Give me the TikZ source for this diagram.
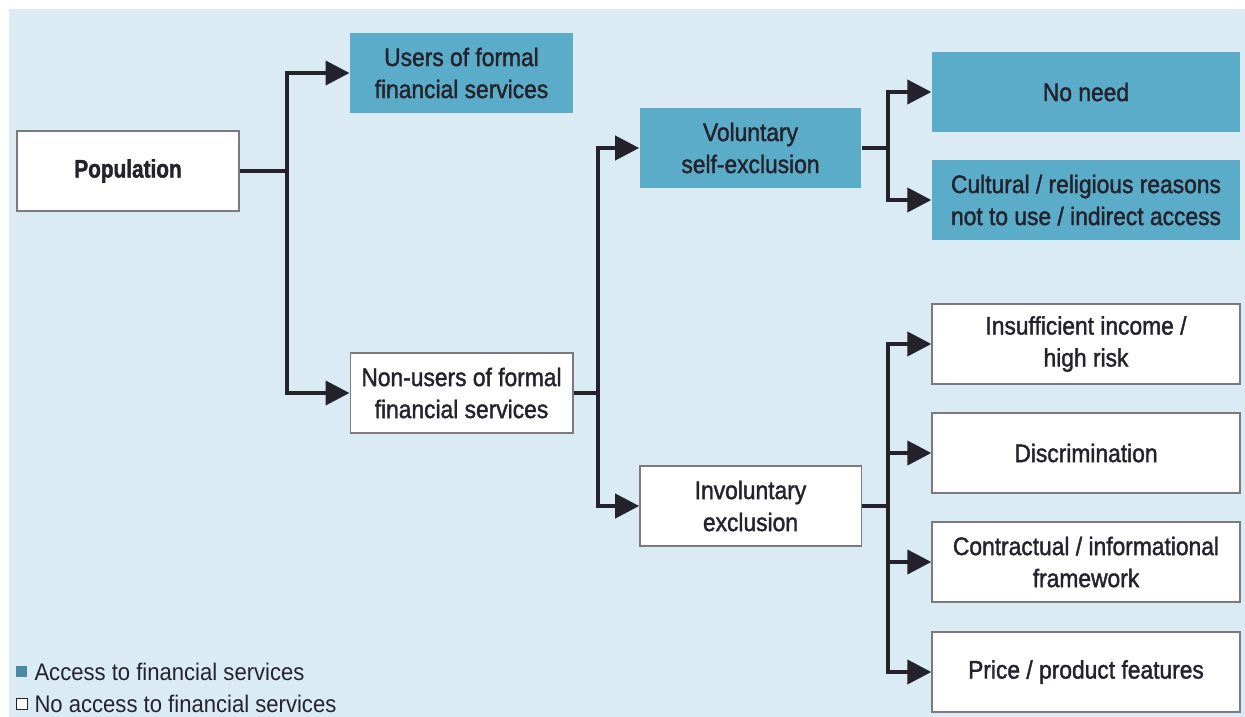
\documentclass[tikz,border=0pt]{standalone}
\usepackage{fontspec}
\setmainfont[FakeStretch=0.92]{Liberation Sans}
\newfontfamily\boxfont[FakeStretch=0.9, FakeBold=1.5, BoldFont={* Bold}, BoldFeatures={FakeStretch=0.82}]{Liberation Sans}
\usetikzlibrary{arrows.meta}

\definecolor{bgblue}{RGB}{218,235,243}
\definecolor{access}{RGB}{91,172,200}
\definecolor{ink}{RGB}{36,34,44}

\tikzset{every picture/.style={line width=0.75pt}}
\tikzset{
  box/.style={draw=ink!60, line width=1pt, fill=white, inner sep=0pt, align=center,
    text=ink, minimum height=60pt, font=\boxfont\fontsize{19}{24}\selectfont},
  accessbox/.style={box, draw=none, fill=access},
  link/.style={draw=ink, line width=3pt, line join=miter},
  arr/.style={link, -{Triangle[length=18pt,width=18pt]}},
  keysq/.style={minimum size=8.25pt, inner sep=0pt, line width=0.75pt},
  keytext/.style={anchor=west, inner sep=0.75pt, text=ink, font=\fontsize{18}{20}\selectfont}
}

\begin{document}
\begin{tikzpicture}[x=0.75pt,y=0.75pt,yscale=-1,xscale=1]
\useasboundingbox (0,0) rectangle (1245,717);
% background
\fill[bgblue] (9,9) rectangle (1245,717);

% first level
\node[box, minimum width=166.5pt, font=\boxfont\fontsize{19}{24}\selectfont\bfseries] (pop) at (128,171) {Population};
\node[accessbox, minimum width=167pt] (users) at (461.5,73) {Users of formal\\financial services};
\node[box, minimum width=167pt] (nonusers) at (461.5,393) {Non-users of formal\\financial services};

% second level
\node[accessbox, minimum width=166pt] (vol) at (750.5,148) {Voluntary\\self-exclusion};
\node[box, minimum width=166pt] (invol) at (750.5,506) {Involuntary\\exclusion};

% third level
\node[accessbox, minimum width=231pt] (noneed) at (1086,92) {No need};
\node[accessbox, minimum width=231pt] (cultural) at (1086,200) {Cultural / religious reasons\\not to use / indirect access};
\node[box, minimum width=231pt] (income) at (1086,344) {Insufficient income /\\high risk};
\node[box, minimum width=231pt] (discr) at (1086,453) {Discrimination};
\node[box, minimum width=231pt] (contract) at (1086,562) {Contractual / informational\\framework};
\node[box, minimum width=231pt] (price) at (1086,672) {Price / product features};

% junctions
\coordinate (j1) at (287,171);
\coordinate (j2) at (598,393);
\coordinate (j3) at (888,148);
\coordinate (j4) at (888,506);

% connectors
\draw[link] (pop.east) -- (j1);
\draw[arr] (j1) |- (users.west);
\draw[arr] (j1) |- (nonusers.west);

\draw[link] (nonusers.east) -- (j2);
\draw[arr] (j2) |- (vol.west);
\draw[arr] (j2) |- (invol.west);

\draw[link] (vol.east) -- (j3);
\draw[arr] (j3) |- (noneed.west);
\draw[arr] (j3) |- (cultural.west);

\draw[link] (invol.east) -- (j4);
\draw[arr] (j4) |- (income.west);
\draw[arr] (j4) |- (discr.west);
\draw[arr] (j4) |- (contract.west);
\draw[arr] (j4) |- (price.west);

% legend
\node[keysq, fill=access!80!black] (keyA) at (21.5,671.5) {};
\node[keytext] (keyAtext) at (33,672) {Access to financial services};
\node[keysq, fill=white, draw=ink] (keyN) at (21.5,703.5) {};
\node[keytext] (keyNtext) at (33,704) {No access to financial services};

\end{tikzpicture}
\end{document}
